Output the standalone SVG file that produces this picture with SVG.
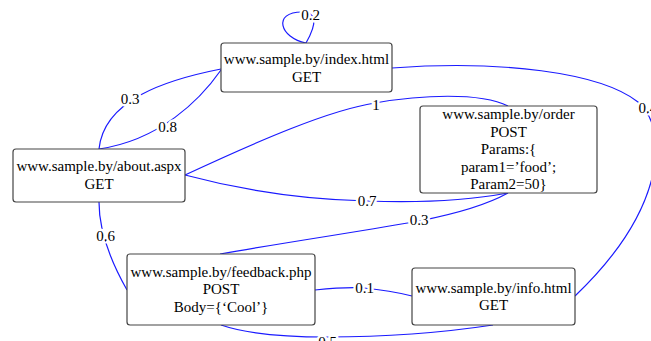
<svg xmlns="http://www.w3.org/2000/svg" width="651" height="341" viewBox="0 0 651 341">
  <style>
    .node rect { fill: #ffffff; stroke: #444444; stroke-width: 1.2; }
    .node text { font-family: "Liberation Serif", "Times New Roman", serif; font-size: 15px; fill: #000000; text-anchor: middle; }
    .edge { fill: none; stroke: #1a1aff; stroke-width: 1.2; }
    .lbl { font-family: "Liberation Serif", "Times New Roman", serif; font-size: 15px; fill: #000000; text-anchor: middle;
           stroke: #ffffff; stroke-width: 5; stroke-linejoin: round; paint-order: stroke; }
  </style>
  <rect width="651" height="341" fill="#ffffff"/>

  <g id="connectors">
    <!-- index self loop -->
    <path class="edge" d="M306,43 C280,38 272,12 302,12 C316,12 318,22 306,43"/>
    <!-- index -> about -->
    <path class="edge" d="M221,69 C165,80 104,100 99,149"/>
    <path class="edge" d="M221,70 C200,100 160,140 99,149"/>
    <!-- about -> order -->
    <path class="edge" d="M185,175 C260,140 330,110 375,103 C420,95 480,92 508,106"/>
    <path class="edge" d="M185,175 C260,195 320,200 367,201 C420,203 470,200 508,193"/>
    <!-- feedback -> order -->
    <path class="edge" d="M220,254 C300,240 370,230 419,221 C460,213 490,203 508,193"/>
    <!-- about -> feedback -->
    <path class="edge" d="M99,202 C99,230 110,260 127,290"/>
    <!-- feedback -> info -->
    <path class="edge" d="M315,290 C335,288 350,287 364,288 C385,290 400,293 412,296"/>
    <path class="edge" d="M221,325 C250,335 290,337 327,337 C400,337 460,330 493,325"/>
    <!-- index -> info, looping past the right border -->
    <path class="edge" d="M392,68 C500,60 600,72 638,102 C670,130 665,210 575,296"/>

    <text class="lbl" x="310.5" y="20">0.2</text>
    <text class="lbl" x="130" y="104">0.3</text>
    <text class="lbl" x="167.5" y="131.5">0.8</text>
    <text class="lbl" x="376" y="110">1</text>
    <text class="lbl" x="367" y="206">0.7</text>
    <text class="lbl" x="419" y="225">0.3</text>
    <text class="lbl" x="105.5" y="241">0.6</text>
    <text class="lbl" x="364.5" y="293">0.1</text>
    <text class="lbl" x="327.5" y="347">0.5</text>
    <text class="lbl" x="638.5" y="113" style="text-anchor:start">0.4</text>
  </g>

  <g id="index" class="node">
    <rect x="221" y="43" width="171" height="49" rx="3"/>
    <text x="306.5" y="64">www.sample.by/index.html</text>
    <text x="306.5" y="82">GET</text>
  </g>

  <g id="order" class="node">
    <rect x="420" y="106" width="177" height="87" rx="3"/>
    <text x="508.5" y="119">www.sample.by/order</text>
    <text x="508.5" y="136.5">POST</text>
    <text x="508.5" y="154">Params:{</text>
    <text x="508.5" y="171.5">param1=’food’;</text>
    <text x="508.5" y="189">Param2=50}</text>
  </g>

  <g id="about" class="node">
    <rect x="13" y="149" width="172" height="53" rx="3"/>
    <text x="99" y="171">www.sample.by/about.aspx</text>
    <text x="99" y="189">GET</text>
  </g>

  <g id="feedback" class="node">
    <rect x="127" y="254" width="188" height="71" rx="3"/>
    <text x="221" y="277">www.sample.by/feedback.php</text>
    <text x="221" y="294">POST</text>
    <text x="221" y="311.5">Body={‘Cool’}</text>
  </g>

  <g id="info" class="node">
    <rect x="412" y="268" width="163" height="57" rx="3"/>
    <text x="493.5" y="292.5">www.sample.by/info.html</text>
    <text x="493.5" y="310">GET</text>
  </g>
</svg>
